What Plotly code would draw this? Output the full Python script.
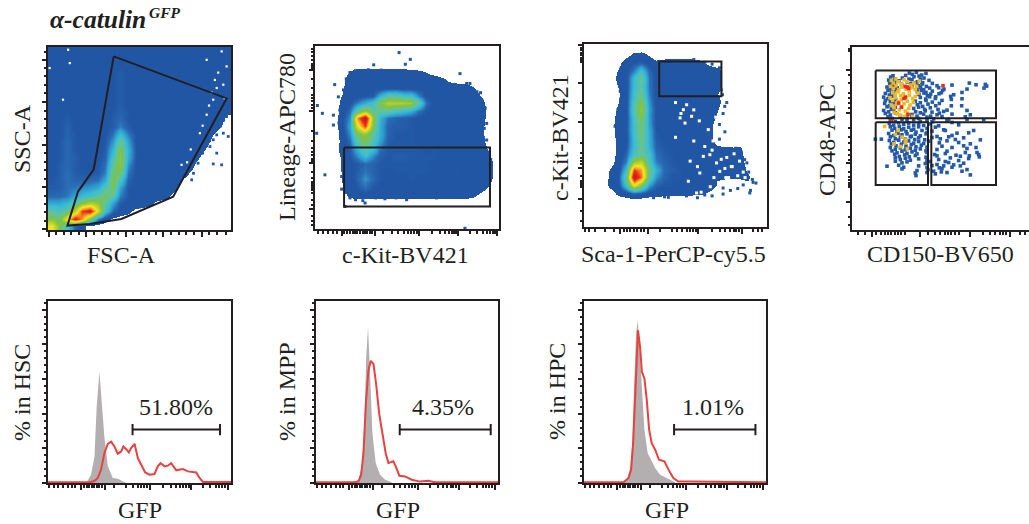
import plotly.graph_objects as go

W, H = 1029, 524
INK = "#231f20"
FONT = "Liberation Serif"

# ---- density grids, 24 x 24, top row first (0 = no events, 10 = densest) ----
dens_fsc_ssc = [
[1,1,1,1,1,1,1,1,1,1,1,1,1,1,1,1,1,1,1,1,1,1,1,1],
[1,1,1,1,1,1,1,1,1,1,1,1,1,1,1,1,1,1,1,1,1,1,1,1],
[1,1,1,1,1,1,1,1,1,1.1,1,1,1,1,1,1,1,1,1,1,1,1,1,1],
[1,1,1,1,1,1,1,1,1.1,1.3,1.1,1,1,1,1,1,1,1,1,1,1,1,1,1],
[1,1,1,1,1,1,1,1,1.1,1.3,1.1,1,1,1,1,1,1,1,1,1,1,1,1,1],
[1,1,1,1,1,1,1,1,1.1,1.3,1.1,1,1,1,1,1,1,1,1,1,1,1,1,1],
[1,1,1.1,1,1,1,1,1,1.1,1.3,1.1,1,1,1,1,1,1,1,1,1,1,1,1,1],
[1,1,1.1,1,1,1,1,1,1.1,1.3,1.1,1,1,1,1,1,1,1,1,1,1,1,1,.9],
[1,1,1.2,1,1,1,1,1,1.2,1.4,1.2,1,1,1,1,1,1,1,1,1,1,1,1,.6],
[1,1.1,1.3,1.1,1,1,1,1,1.3,1.5,1.2,1,1,1,1,1,1,1,1,1,1,1,.8,.2],
[1,1.1,1.4,1.1,1,1,1,1.1,1.3,1.8,1.3,1,1,1,1,1,1,1,1,1,1,.9,.5,0],
[1,1.1,1.4,1.2,1,1,1,1.1,1.7,2.9,1.8,1.1,1,1,1,1,1,1,1,1,1,.5,.1,0],
[1,1.2,1.5,1.2,1,1,1,1.2,2.1,3.9,2.2,1.1,1,1,1,1,1,1,1,1,.8,.3,0,0],
[1,1.2,1.5,1.2,1.1,1,1,1.3,2.6,4.5,2.5,1.2,1,1,1,1,1,1,1,1,.5,0,0,0],
[1,1.2,1.5,1.3,1.1,1,1.1,1.4,3.1,4.8,2.4,1.2,1,1,1,1,1,1,1,.6,0,0,0,0],
[1,1.3,1.5,1.3,1.1,1.1,1.2,1.6,3.6,4.8,2,1.1,1,1,1,1,1,1,.9,.2,0,0,0,0],
[1,1.3,1.6,1.3,1.2,1.2,1.3,1.8,4.2,4.2,1.7,1.1,1,1,1,1,1,1,.45,0,0,0,0,0],
[1.2,1.3,1.6,1.4,1.4,1.5,1.6,2.3,4.5,3.2,1.4,1,1,1,1,1,1,.5,0,0,0,0,0,0],
[1.3,1.3,1.6,1.7,1.9,2.1,2.4,3.3,4.3,2.2,1.2,1,1,1,1,1,.7,.1,0,0,0,0,0,0],
[1.5,1.5,1.7,2.2,2.7,3,3.6,4.3,3.5,1.8,1.2,1,1,1,1,.8,.1,0,0,0,0,0,0,0],
[2.3,2.3,2.6,3.3,4.5,5.3,4.8,3.6,2.2,1.3,1,1,1,.6,.1,0,0,0,0,0,0,0,0,0],
[3.5,3.1,3.6,5.5,8.5,9.2,6,3,1.5,1,.7,.2,0,0,0,0,0,0,0,0,0,0,0,0],
[4.5,4,6.5,9.2,7.5,4.5,1.8,.8,.3,.1,0,0,0,0,0,0,0,0,0,0,0,0,0,0],
[6.5,4.5,3,1.4,.8,.1,0,0,0,0,0,0,0,0,0,0,0,0,0,0,0,0,0,0],
]
dens_kit_lin = [
[0,0,0,0,0,0,0,0,0,0,0,0,0,0,0,0,0,0,0,0,0,0,0,0],
[0,0,0,0,0,0,0,0,0,0,0,0,0,0,0,0,0,0,0,0,0,0,0,0],
[0,0,0,0,0,0,0,0,0,0,0,0,0,0,0,0,0,0,0,0,0,0,0,0],
[0,0,0,0,.6,1,1,1,1,1,1,1,.8,.7,.5,.2,0,0,0,0,0,0,0,0],
[0,0,0,.2,1,1,1,1,1,1,1,1,1,1,1,1,.7,.3,.1,0,0,0,0,0],
[0,0,0,.3,1,1,1,1,1,1.1,1.1,1,1,1,1,1,1,1,1,1,.6,.1,0,0],
[0,0,0,.5,1,1,1.2,1.3,2.5,3.5,3.5,3,3,1.8,1.1,1,1,1,1,1,1,.5,0,0],
[0,0,0,.7,1.1,1.8,2.4,3,4.5,5.4,5.3,5.3,5,3.5,1.6,1,1,1,1,1,1,.8,.2,0],
[0,0,0,.8,1.6,3.5,5,3.5,3.6,3.5,3,2.8,2.4,1.6,1.2,1,1,1,1,1,1,.9,.3,0],
[0,0,0,1,2,7.5,10,4.8,2.5,1.6,1.4,1.3,1.2,1.1,1.1,1,1,1,1,1,1,.9,.2,0],
[0,0,0,1,2.3,6,8.5,4.3,2.4,1.4,1.3,1.3,1.2,1.1,1,1,1,1,1,1,1,.8,.1,0],
[0,0,0,.8,2,4.2,4.8,3.6,2.4,1.4,1.2,1.2,1.2,1.1,1,1,1,1,1,1,1,.7,.1,0],
[0,0,0,.7,1.6,3.5,4.4,3.2,2.2,1.3,1.2,1.2,1.2,1.1,1.1,1.1,1,1,1,1,1,.8,.2,0],
[0,0,0,.8,1.3,2.5,3.5,2.8,1.6,1.2,1.2,1.2,1.2,1.2,1.1,1.2,1.1,1,1,1,1,.9,.4,0],
[0,0,0,.6,1.2,1.8,2.6,1.8,1.3,1.2,1.3,1.3,1.2,1.2,1.2,1.2,1.1,1,1,1,1,1,.7,.1],
[0,0,0,.6,1,1.2,1.5,1.4,1.2,1.2,1.2,1.2,1.2,1.2,1.2,1.1,1.1,1.1,1.1,1,1,1,1,.2],
[0,0,0,.5,1,1.3,1.7,1.4,1.2,1.1,1.2,1.2,1.2,1.2,1.2,1.1,1.1,1.1,1.2,1.1,1,1,1,.2],
[0,0,0,.5,1,1.4,2,1.5,1.2,1.1,1.1,1.1,1.2,1.1,1.1,1.1,1.1,1.1,1.1,1.1,1,1,.9,.1],
[0,0,0,.4,.9,1.2,1.6,1.2,1.1,1,1,1,1,1,1,1,1,1,1,1,1,.9,.4,0],
[0,0,0,.1,.7,1,1,1,1,1,1,.9,.9,1,1,.9,.9,.9,.9,.9,.7,.3,0,0],
[0,0,0,0,0,0,0,0,0,0,0,0,0,0,0,0,0,0,0,0,0,0,0,0],
[0,0,0,0,0,0,0,0,0,0,0,0,0,0,0,0,0,0,0,0,0,0,0,0],
[0,0,0,0,0,0,0,0,0,0,0,0,0,0,0,0,0,0,0,0,0,0,0,0],
[0,0,0,0,0,0,0,0,0,0,0,0,0,0,0,0,0,0,0,0,0,0,0,0],
]
dens_sca_kit = [
[0,0,0,0,0,0,0,0,0,0,0,0,0,0,0,0,0,0,0,0,0,0,0,0],
[0,0,0,0,0,.2,.7,.8,.4,0,0,0,0,0,0,0,0,0,0,0,0,0,0,0],
[0,0,0,0,.2,.9,1.2,1.4,1,.7,.9,1,1,1,.9,.6,.2,0,0,0,0,0,0,0],
[0,0,0,0,.5,1,1.8,3,1.5,1,1,1,1,1,1,1,1,.8,.1,0,0,0,0,0],
[0,0,0,0,.7,1,2.8,3.8,1.7,1,1.1,1.1,1.1,1.1,1,1,1,.8,.1,0,0,0,0,0],
[0,0,0,0,.5,1,2.8,3.6,1.7,1,1.1,1.1,1,1,1,1,1,.7,.1,0,0,0,0,0],
[0,0,0,0,.3,1,3,3.8,1.8,1,.9,.9,.9,.9,.9,.9,.8,.5,.1,0,0,0,0,0],
[0,0,0,0,.4,1,3.2,4.4,2,1,1,.9,.7,.6,.7,.8,.7,.6,.3,0,0,0,0,0],
[0,0,0,0,.6,1,3.5,4.9,2.2,1.1,1,.8,.5,.5,.7,.9,.8,.5,.2,0,0,0,0,0],
[0,0,0,0,.8,1,3.2,4.5,2.1,1.1,1,1,.7,.6,.7,.9,.8,.4,0,0,0,0,0,0],
[0,0,0,.2,.8,1.1,3,4.2,2.2,1.1,1,1,1,1,1,1,.6,.2,0,0,0,0,0,0],
[0,0,0,.2,.7,1.1,3,4,2.4,1.2,1,1,1,1,1,1,.6,.2,0,0,0,0,0,0],
[0,0,0,.1,.7,1.1,2.8,4,2.4,1.3,1.1,1,1,1,1,1,.6,.2,0,0,0,0,0,0],
[0,0,0,.1,.6,1.2,2.8,3.8,2.5,1.4,1.2,1.1,1,1,1,1,.7,.5,.5,.45,.5,.1,0,0],
[0,0,0,.1,.7,1.5,3.2,3.8,3,1.6,1.3,1.2,1,.7,.6,.7,.8,.8,.7,.7,.6,.2,0,0],
[0,0,0,.2,.8,1.8,5,5.6,3.2,1.8,1.4,1.2,1.1,1,.9,.8,.7,.7,.7,.7,.6,.3,0,0],
[0,0,0,.6,.9,2.8,8.5,7.5,3.8,2.5,1.5,1.3,1.2,1.1,1,1,.8,.6,.7,.7,.6,.4,.1,0],
[0,0,0,.7,1.1,3.6,10,8,3.6,2,1.4,1.2,1.2,1.1,1.1,1.1,1,.5,.5,.5,.5,.5,.3,0],
[0,0,0,.8,1,3,6.5,4.6,2.2,1.4,1.2,1.1,1.1,1,1,1,.9,.4,.3,.3,.3,.4,.2,0],
[0,0,0,.1,.7,1,1.6,1.4,1,1,.7,.7,.7,.7,.6,.6,.3,0,0,0,0,0,0,0],
[0,0,0,0,0,.1,.2,.1,0,0,0,0,0,0,0,0,0,0,0,0,0,0,0,0],
[0,0,0,0,0,0,0,0,0,0,0,0,0,0,0,0,0,0,0,0,0,0,0,0],
[0,0,0,0,0,0,0,0,0,0,0,0,0,0,0,0,0,0,0,0,0,0,0,0],
[0,0,0,0,0,0,0,0,0,0,0,0,0,0,0,0,0,0,0,0,0,0,0,0],
]
DENSITY_SCALE = [[0,"#ffffff"],[.045,"#ffffff"],[.0451,"#2156a5"],[.115,"#2156a5"],[.16,"#2a6db5"],
                 [.2,"#2f95cb"],[.27,"#38bdd6"],[.36,"#5fc39d"],[.45,"#80c342"],[.55,"#b9d130"],
                 [.66,"#f7e61c"],[.76,"#f7981d"],[.86,"#ec2a20"],[1,"#c4161c"]]

# ---- isolated events and gaps, % of axis ----
fsc_blue_x = [92.2,94.9,90.3,98.5,95.8,92.2,88.5,90.3,78.5,74.8,94.9,97.6,94,86.5,84.5,82,79.5,68,60,50,44,38,70,73,77,80,84,88,92,96,99]
fsc_blue_y = [42,35.6,36.1,51.1,52.9,52,45.6,49.3,27.4,31,60.2,62,56.6,46,42,36.5,31,21,17,12.5,11,9,24,28,33,38,44,50,55,60,64]
fsc_white_x = [86.7,94.9,91.2,97.6,92.2,95.8,90.3,86.7,83,73,11,11.9,.9,8.2,93,88,96.5,84.5,78,76,89.5]
fsc_white_y = [93,97.6,82,89.4,77.6,79.4,71.2,63,52.9,35.6,98.5,91.2,88.5,71.2,86,68,72,57,44,37,75]
kit_blue_x = [45.7,51.8,49.1,31.9,78.8,10.7,1.3,4,.9,5.4,14.5,14.5,12.7,10,10,82.4,84.2,91.5,93.3,16.3,27.2,49.8,91.5,93.3,81.5,
              19,22,25,29,33,36,41,45,48,55,60,66,72,76,85,88,90,91,92.5,91,92,91.5,94,95.5,95,95.5,94,92,88,84,78,72,66,60,55,49,44,38,33,26,22,19,17,16,15,16,15.5,14,13,13.5,15,15.5,17]
kit_blue_y = [96.4,92.7,90,89.7,84.9,78.9,67.5,63.2,52.3,29.6,28.7,21.8,72.2,62.2,56.8,79.5,79.5,67.7,57.7,12.3,14.2,16,65,48.6,.4,
              85.5,86.5,86,87,86,86.8,86.5,85.7,85,84,82.5,81,79,78,77,75,74.5,70,66,60,55,50,42,38,34,28,24,22,20,19,18,18.5,17,18,19,19,17,16.5,17,15.5,16,17,20,26,32,38,45,52,58,65,70,76,82]
sca_blue_x = [16.5,18.9,19.8,20.3,92.4,90.6,46.1,34.3,85.1,87.8,76.9,88.7,86,82.4,79.7,83.3,76,75.7,
              17,18.5,20,21,22,25,29,33,37,38,45,50,56,60,66,70,74,73,75,78,76,74,77,74,78,83,86,89,90,92,94,91,87,84,80,76,70,66,62,56,50,44,38,30,24,20,17,16,18,19,20,18.5]
sca_blue_y = [23.7,58.7,74.1,86.9,24.4,18.6,16.2,17.7,42.3,36.8,65.9,25.9,31.3,37.7,41.3,29.5,21.3,72.3,
              55,64,70,78,84,88.5,90,91,90.5,86,90,91,90.5,91.5,90,89,87,80,75,68,62,56,52,48,42,43,41,35,30,26,24,20,23,21,20,18,17,17.5,16,17,18,16.5,16,16.2,17,20,24,27,32,40,46,50]
sca_white_x = [54.3,56.1,58.8,52.5,55.2,65.2,68.8,63.3,72.4,74.2,61.5,67.9,50,60,70.5,57,77.5,80.5,84,
               78,81,85,79,83,87,74,69,77,82,50,53,60,63,66,58,62,71,72,64,88,70,75]
sca_white_y = [64.1,66.8,60.5,59.6,56.8,38.6,39.5,29.5,35,30.4,18.6,53.2,49,47,47,25,27,33,28,
               38,33,36,27,25,30,24,22,32,40,68,62,64,58,44,36,33,27,60,19,27,42,37]

# ---- CD150 / CD48 events, instrument channel units ----
hsc_blue = [(172,470),(181,466),(193,472),(209,464),(222,469),(116,458),(123,462),(151,455),(161,463),(171,452),(186,459),(201,461),(216,455),
(110,449),(119,445),(129,452),(141,447),(166,443),(180,450),(196,444),(205,452),(212,441),(231,448),(113,439),(121,434),(128,442),(149,436),(176,438),(191,441),(199,432),(210,437),(223,430),(241,439),(260,426),
(105,428),(115,423),(125,431),(136,426),(181,428),(195,422),(206,427),(215,420),(233,425),(255,432),(276,422),(404,431),(108,418),(118,413),(130,421),(196,414),(208,418),(222,412),(241,416),(261,408),(272,418),(300,434),(345,422),(400,436),
(100,409),(112,404),(125,412),(201,406),(216,410),(226,402),(236,407),(251,399),(268,411),(305,405),(330,412),(396,425),(95,398),(108,393),(120,401),(205,397),(221,392),(233,399),(250,394),(270,388),(298,391),(352,440),(372,435),
(100,388),(115,384),(131,391),(190,386),(205,381),(222,388),(241,383),(262,379),(298,372),(330,393),(98,379),(112,372),(125,381),(196,375),(212,370),(228,377),(251,372),(329,372),(296,400),
(105,369),(118,362),(130,368),(185,364),(200,368),(218,361),(235,366),(258,361),(275,355),(95,358),(110,354),(125,360),(191,354),(205,351),(220,357),(240,353),(262,350),(285,359),(300,347),(345,358),
(100,349),(115,344),(130,351),(180,346),(195,341),(215,347),(236,341),(255,345),(108,339),(120,334),(145,340),(165,335),(180,338),(200,334),(225,338),(245,333),(270,340),(290,331),(340,339),(355,345),
(115,329),(130,325),(150,331),(165,326),(185,330),(205,325),(225,329),(240,324),(285,327),(345,331),(395,330),
(112,319),(125,314),(140,321),(155,316),(170,320),(185,314),(200,319),(215,313),(232,318),(260,312),(300,322),(320,315),(70,272),(88,272),
(115,309),(128,304),(142,310),(155,303),(170,308),(185,302),(200,309),(225,304),(250,308),(275,300),(120,299),(135,294),(148,300),(162,295),(178,299),(192,293),(210,298),(225,291),(240,296),(280,298),(315,290),(365,298),
(110,289),(125,283),(138,290),(150,285),(165,288),(178,281),(190,287),(205,282),(222,288),(255,280),(300,283),(350,291),(115,279),(130,273),(145,278),(160,272),(175,279),(188,271),(200,276),(218,270),(240,277),(265,273),(290,279),(310,271),(335,276),(385,270),
(112,268),(125,262),(140,269),(155,263),(170,267),(185,260),(200,265),(215,259),(230,266),(262,261),(285,267),(320,262),(355,258),(118,258),(132,252),(148,257),(162,251),(178,256),(192,249),(208,254),(225,248),(270,251),(300,247),(335,252),(372,247),
(115,247),(130,242),(145,246),(160,240),(175,245),(190,239),(205,243),(222,237),(255,241),(285,236),(345,244),(375,232),(120,237),(135,231),(150,236),(165,229),(180,234),(195,228),(225,232),(248,226),(280,229),(312,224),(340,232),
(128,227),(142,220),(158,225),(172,219),(190,223),(222,218),(255,222),(295,216),(325,221),(350,214),(380,226),(130,216),(145,211),(160,215),(175,209),(200,213),(225,208),(260,211),(280,205),(320,208),
(130,206),(150,201),(165,204),(220,199),(232,205),(255,196),(290,202),(305,195),(335,200),(105,191),(140,194),(155,188),(200,192),(225,187),(240,193),(262,186),(300,188),(325,192),(345,181),
(150,183),(195,178),(228,181),(245,176),(270,184),(330,176),(225,172),(250,168),(268,174),(355,165),(190,171),(352,222),(382,219),(275,192),(285,172),(192,163)]
hsc_yellow = [(118,448),(124,440),(132,452),(140,444),(148,436),(156,450),(166,444),(176,434),(186,440),(194,430),(202,446),
(116,430),(124,424),(132,432),(140,420),(150,428),(162,422),(172,416),(180,426),(190,420),(198,410),
(122,412),(130,406),(138,414),(146,402),(154,408),(162,396),(172,404),(182,394),(190,400),
(114,396),(122,388),(130,396),(138,384),(148,390),(156,378),(166,386),(174,374),(184,382),
(118,374),(126,366),(134,376),(142,360),(150,368),(160,356),(170,364),(126,352),(136,348),(146,344),(158,340),(166,350),
(138,298),(130,286),(150,278),(162,270),(98,310),(126,258),(146,250),(166,243),(160,262),(182,340)]
hsc_red = [(160,430),(166,428),(170,424),(156,394),(160,398),(148,368),(140,380),(273,432),(168,346),(118,330)]

# ---- GFP histograms ----
hsc_ctrl_x = [21.2,23.5,25.4,26.6,28.1,29.4,30.8,32.7,35.4,38.1,40.9,42.7]
hsc_ctrl_y = [.4,4.8,15.3,44,64.2,47.9,26.8,9.6,2.9,2.5,1,0]
hsc_gfp_x = [0,22.6,25.4,27.2,29,30.8,32.7,34.5,36.3,38.1,40,41.2,42.7,44.2,45.4,47.3,49.1,50.9,53.1,55.5,58.2,60,61.5,63.7,65.5,67.3,70.1,73.7,76.5,81,82.8,84.7,100]
hsc_gfp_y = [.4,.4,1.1,2.9,7.7,17.2,22.6,23.9,21.1,16.9,18.2,21.1,19.5,17.6,20.1,22.6,14.4,10.5,6.1,4.8,5.2,9.6,11.5,9.6,10,11.5,7.3,8,6.7,6.1,2.9,.6,.6]
mpp_ctrl_x = [21.5,23.4,25.2,26.6,27.6,28.6,29.7,31,32.8,35.2,38,41.6]
mpp_ctrl_y = [.4,1.9,9.6,34.5,72.8,89.7,63.2,28.7,11.5,4.8,1.9,.4]
mpp_gfp_x = [0,21.5,23.4,24.8,26.1,27.4,28.8,30.1,31.6,33,34.7,36.5,38.3,39.8,41.2,42.5,43.8,45.8,48.9,52.6,57.1,61.7,65.3,100]
mpp_gfp_y = [.4,.4,1,4.8,17.2,46,65.1,70.5,68.6,57.5,40.2,28.7,17.2,11.5,11.9,12.5,9.6,4.2,3.8,1.9,.8,1.3,.4,.4]
hpc_ctrl_x = [21.7,23.5,25.4,26.6,27.7,28.6,29.6,30.5,31.8,33.2,35,37.2,39.1,41.8,45.5,50]
hpc_ctrl_y = [.4,1.9,8.6,24.9,61.3,86.2,93.9,78.5,57.5,30.7,17.2,13,8.6,4.8,2.9,.4]
hpc_gfp_x = [0,21.7,24.5,25.9,27,28.1,29,29.7,30.8,31.8,33.2,34.5,35.8,37.2,39.1,41.2,44.2,46.4,49.1,51.8,59.1,100]
hpc_gfp_y = [.4,.4,2.9,7.7,23,53.6,76.6,88.1,78.5,64.2,60.3,47.9,30.7,23,19.2,13.4,12.5,7.7,2.9,.8,.8,.4]

# ---- gates ----
scatter_gate_x = [35.9,97.6,68.4,40.1,22.8,10.6,16.4,25,35.9]
scatter_gate_y = [94.9,71.9,18.2,6,3.3,2.4,21,33.2,94.9]
lsk_gate_x = [15.8,95.1,95.1,15.8,15.8]
lsk_gate_y = [44.6,44.6,12.3,12.3,44.6]
sk_gate_x = [41.1,75.1,75.1,41.1,41.1]
sk_gate_y = [90.5,90.5,71.4,71.4,90.5]
slam_gates = [([71,432,432,71,71],[478,478,335,335,478]),
              ([71,228,228,71,71],[323,323,135,135,323]),
              ([238,432,432,238,238],[323,323,135,135,323])]
gfp_gates = [(46.2,94,"51.80%"),(46,96,"4.35%"),(49.5,94.2,"1.01%")]

# ---- tick positions, in % of axis ----
lin_x_major = [.4,21,42.5,63,84]
lin_x_minor = [4.6,8.8,12.8,17,25.2,29.6,33.8,38.3,46.7,50.9,55.3,58.8,67.2,71.4,75.6,79.8,88.2,92.4,97]
lin_y_major = [.4,23.4,46.5,70,93]
lin_y_minor = [4.9,9.7,14.2,18.8,28,32.8,37.3,42,51.1,55.7,60.4,65,74.6,79.4,84,88.7,97.5]
log2_x_major = [14.5,32.6,56.5,77.9,98.8]
log2_x_minor = [1.8,4.5,7.2,10,11.8,15.8,17.6,19,20.5,21.7,23,24.5,25.9,27.2,28.5,29.9,31.1,37.2,41.8,45.3,48.1,50.3,52.1,53.9,55.4,63.4,68,70.7,72.9,74.3,75.6,76.7,84.2,88.2,91.1,93.3,95.1,96.5,97.6]
log2_y_major = [86.7,64.4,36.3,10.7]
log2_y_minor = [98.5,96.7,94.3,92.2,90.3,88.9,87.8,81.7,77.1,73.5,71.6,69.8,68,66.2,53.3,47.9,44.2,42,40.2,38.4,37,31.2,27.6,25.8,24.5,23.4,22.3,21.2,19.8,16,13.2,6.9,4.2,2.3]
log3_x_major = [19.8,35.2,62.4,86.2]
log3_x_minor = [.7,2.5,6.2,11.6,16.2,21.6,23.5,25.4,27.2,29,30.9,32.8,41.6,48,50.8,53.5,56.2,58,59.8,61.3,70,74.5,77.2,80,81.8,83.2,84.7,92.2,95,97.3]
log3_y_major = [99.3,78.9,57.4,32.5,15.1]
log3_y_minor = [98,96.8,95.3,93.9,92.6,91.3,89.9,68,62.4,46.1,40.7,37.9,36,34.2,28,25.3,24,22.9,21.6,8.7,3.3]
slam_x_major = [61,203,353,475]
slam_x_minor = [18,38,73,88,98,108,118,128,138,148,158,228,248,263,278,288,298,308,321,393,413,428,443,453,463,503,518]
slam_y_major = [480,350,200,85]
slam_y_minor = [542,535,465,440,410,395,380,365,305,280,260,240,225,210,175,160,150,142,135,128,40,15]
hist_x_major = [18,31.4,55.8,78.3,98.4]
hist_x_minor = [.7,3.1,5.3,8,10.8,13.1,15,19.9,21.4,22.6,23.9,25.4,26.8,28.1,29.4,36.3,42.7,46.4,49.1,50.9,52.7,54.2,62.6,67.2,69.9,72.1,73.9,75.4,77,84.7,88.7,91.6,93.4,95.3,96.7]
hist_y_major = [0,20,40,60,80,100]
hist_y_minor = [4,8,12,16,24,28,32,36,44,48,52,56,64,68,72,76,84,88,92,96,104]

# (x0, x1, ytop, ybottom) of each panel in the 1029 x 524 page
panels = [(48,231,47,230),(315,499,46,229),(584,767,44,227),(852,1029,47,230),
          (48,231,301,483),(316,498,301,483),(584,766,301,483)]

fig = go.Figure()
layout = {}

def axis(major, minor, rng, domain, mirror=True):
    return dict(domain=domain, range=rng, showgrid=False, zeroline=False, showline=True,
                linecolor=INK, linewidth=2, mirror=mirror, ticks="outside", ticklen=4.5, tickwidth=2,
                tickcolor=INK, tickmode="array", tickvals=major, showticklabels=False,
                minor=dict(ticks="outside", tickmode="array", tickvals=minor, ticklen=2.5, tickwidth=2, tickcolor=INK))

axes_spec = [
 (lin_x_major,lin_x_minor,[0,100],lin_y_major,lin_y_minor,[0,100]),
 (log2_x_major,log2_x_minor,[0,100],log2_y_major,log2_y_minor,[0,100]),
 (log3_x_major,log3_x_minor,[0,100],log3_y_major,log3_y_minor,[0,100]),
 (slam_x_major,slam_x_minor,[0,531],slam_y_major,slam_y_minor,[0,548]),
 (hist_x_major,hist_x_minor,[0,100],hist_y_major,hist_y_minor,[0,105]),
 (hist_x_major,hist_x_minor,[0,100],hist_y_major,hist_y_minor,[0,105]),
 (hist_x_major,hist_x_minor,[0,100],hist_y_major,hist_y_minor,[0,105]),
]
for i,(p,s) in enumerate(zip(panels,axes_spec),1):
    x0,x1,yt,yb = p
    xa = axis(s[0],s[1],s[2],[x0/W,x1/W], mirror=True)
    ya = axis(s[3],s[4],s[5],[1-yb/H,1-yt/H], mirror=(i!=4))
    xa["anchor"]=f"y{i}"; ya["anchor"]=f"x{i}"
    layout[f"xaxis{i}"]=xa; layout[f"yaxis{i}"]=ya

def refs(i): return dict(xaxis=f"x{i}", yaxis=f"y{i}", showlegend=False, hoverinfo="skip")

centers = [(c+.5)/24*100 for c in range(24)]
for i,g in enumerate([dens_fsc_ssc,dens_kit_lin,dens_sca_kit],1):
    fig.add_trace(go.Heatmap(z=g[::-1], x=centers, y=centers, zmin=0, zmax=10, zsmooth="best",
                             colorscale=DENSITY_SCALE, showscale=False, **refs(i)))

def dots(i,x,y,color,size=2.8):
    fig.add_trace(go.Scatter(x=x,y=y,mode="markers",marker=dict(symbol="square",size=size,color=color,line=dict(width=0)),**refs(i)))
def gate(i,x,y):
    fig.add_trace(go.Scatter(x=x,y=y,mode="lines",line=dict(color=INK,width=2),**refs(i)))

dots(1,fsc_blue_x,fsc_blue_y,"#2156a5"); dots(1,fsc_white_x,fsc_white_y,"#ffffff",2.2)
dots(2,kit_blue_x,kit_blue_y,"#2156a5",3)
dots(3,sca_blue_x,sca_blue_y,"#2156a5",3); dots(3,sca_white_x,sca_white_y,"#ffffff",3)
gate(1,scatter_gate_x,scatter_gate_y); gate(2,lsk_gate_x,lsk_gate_y); gate(3,sk_gate_x,sk_gate_y)

for pts,col in [(hsc_blue,"#2459a8"),(hsc_yellow,"#f2b824"),(hsc_red,"#ec2a20")]:
    dots(4,[a for a,_ in pts],[b for _,b in pts],col,3.6)
for gx,gy in slam_gates: gate(4,gx,gy)

hists = [(hsc_ctrl_x,hsc_ctrl_y,hsc_gfp_x,hsc_gfp_y),(mpp_ctrl_x,mpp_ctrl_y,mpp_gfp_x,mpp_gfp_y),(hpc_ctrl_x,hpc_ctrl_y,hpc_gfp_x,hpc_gfp_y)]
for i,(cx,cy,rx,ry) in enumerate(hists,5):
    fig.add_trace(go.Scatter(x=cx,y=cy,mode="lines",fill="tozeroy",fillcolor="#b3afb0",line=dict(width=0,color="#b3afb0"),**refs(i)))
    fig.add_trace(go.Scatter(x=rx,y=ry,mode="lines",line=dict(color="#e8423f",width=2),**refs(i)))
    a,b,_ = gfp_gates[i-5]
    fig.add_trace(go.Scatter(x=[a,b],y=[30.8,30.8],mode="lines+markers",line=dict(color=INK,width=2),
                             marker=dict(symbol="line-ns",size=8,line=dict(width=2,color=INK),color=INK),**refs(i)))

labels = [("FSC-A",121,255,0),("SSC-A",22,139,-90),("c-Kit-BV421",405,255,0),("Lineage-APC780",287,137,-90),
          ("Sca-1-PerCP-cy5.5",673,254,0),("c-Kit-BV421",560,138,-90),("CD150-BV650",940,254,0),("CD48-APC",827,140,-90),
          ("GFP",140,510,0),("% in HSC",22,393,-90),("GFP",398,510,0),("% in MPP",287,392,-90),("GFP",667,510,0),("% in HPC",557,392,-90),
          (gfp_gates[0][2],176,407,0),(gfp_gates[1][2],443,407,0),(gfp_gates[2][2],713,407,0)]
anns = [dict(text=t,x=x/W,y=1-y/H,xref="paper",yref="paper",xanchor="center",yanchor="middle",showarrow=False,textangle=a,
             font=dict(family=FONT,size=24,color=INK)) for t,x,y,a in labels]
anns.append(dict(text="<b><i>α-catulin</i></b>",x=48/W,y=1-20/H,xref="paper",yref="paper",xanchor="left",yanchor="middle",
                 showarrow=False,font=dict(family=FONT,size=25.5,color=INK)))
anns.append(dict(text="<b><i>GFP</i></b>",x=147/W,y=1-12/H,xref="paper",yref="paper",xanchor="left",yanchor="middle",
                 showarrow=False,font=dict(family=FONT,size=15.5,color=INK)))

fig.update_layout(width=W,height=H,margin=dict(l=0,r=0,t=0,b=0),paper_bgcolor="white",plot_bgcolor="white",annotations=anns,**layout)
fig.write_html("out.html",config=dict(responsive=False,displayModeBar=False),
               post_script="document.body.style.margin='0';document.documentElement.style.overflow='hidden';")
